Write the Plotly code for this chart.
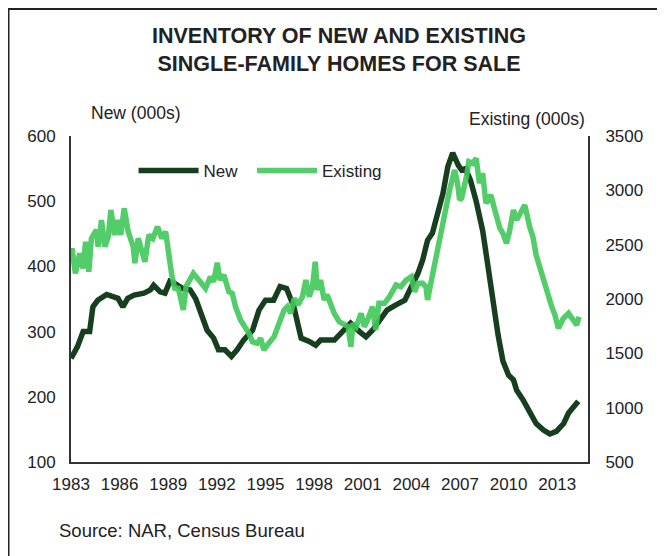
import plotly.graph_objects as go

# New single-family homes for sale (000s)
new_year = [1983.0, 1983.4, 1983.75, 1984.15, 1984.35, 1984.65, 1985.2, 1985.6, 1985.9, 1986.2,
            1986.5, 1986.9, 1987.5, 1987.9, 1988.1, 1988.5, 1988.8, 1989.1, 1989.4, 1989.9,
            1990.35, 1990.7, 1991.0, 1991.4, 1991.8, 1992.1, 1992.5, 1992.9, 1993.25, 1993.65,
            1994.2, 1994.6, 1995.0, 1995.5, 1995.9, 1996.3, 1996.75, 1997.2, 1997.7, 1998.1,
            1998.4, 1998.8, 1999.25, 1999.75, 2000.25, 2000.8, 2001.2, 2001.6, 2002.1, 2002.5,
            2003.05, 2003.6, 2004.0, 2004.4, 2004.7, 2005.0, 2005.3, 2005.6, 2005.95, 2006.25,
            2006.55, 2006.9, 2007.1, 2007.35, 2007.65, 2008.0, 2008.4, 2008.7, 2009.05, 2009.35,
            2009.65, 2010.0, 2010.3, 2010.5, 2010.9, 2011.3, 2011.7, 2012.15, 2012.55, 2012.95,
            2013.4, 2013.7, 2014.0, 2014.3]
new_homes = [259, 277, 300, 300, 338, 348, 357, 354, 351, 338,
             351, 356, 359, 364, 371, 361, 359, 377, 374, 366,
             364, 350, 328, 302, 290, 272, 272, 262, 272, 287,
             302, 333, 348, 348, 369, 366, 338, 290, 285, 279,
             287, 287, 287, 300, 313, 300, 292, 302, 318, 333,
             341, 348, 369, 389, 410, 440, 451, 481, 512, 553,
             574, 555, 548, 550, 532, 500, 455, 405, 343, 295,
             255, 233, 226, 210, 195, 175, 159, 149, 143, 147,
             159, 175, 185, 193]

# Existing single-family homes for sale (000s)
existing_year = [1983.0, 1983.06, 1983.27, 1983.54, 1983.74, 1983.9, 1984.1, 1984.26, 1984.57, 1984.67,
                 1984.88, 1985.09, 1985.3, 1985.46, 1985.7, 1985.9, 1986.07, 1986.28, 1986.53, 1986.84,
                 1986.94, 1987.15, 1987.35, 1987.56, 1987.8, 1988.05, 1988.34, 1988.6, 1988.84, 1989.0,
                 1989.2, 1989.42, 1989.6, 1989.93, 1990.1, 1990.55, 1990.75, 1991.0, 1991.3, 1991.6,
                 1991.8, 1992.02, 1992.2, 1992.43, 1992.74, 1992.95, 1993.15, 1993.46, 1993.77, 1993.98,
                 1994.19, 1994.5, 1994.7, 1994.9, 1995.2, 1995.53, 1995.84, 1996.15, 1996.35, 1996.56,
                 1996.77, 1997.0, 1997.28, 1997.49, 1997.7, 1997.9, 1998.07, 1998.2, 1998.4, 1998.62,
                 1998.8, 1999.0, 1999.24, 1999.55, 1999.86, 2000.1, 2000.27, 2000.4, 2000.6, 2000.9,
                 2001.1, 2001.3, 2001.6, 2001.8, 2002.0, 2002.35, 2002.65, 2003.06, 2003.35, 2003.68,
                 2004.0, 2004.2, 2004.4, 2004.7, 2004.9, 2005.0, 2005.2, 2005.4, 2005.74, 2006.05,
                 2006.36, 2006.67, 2006.85, 2006.98, 2007.1, 2007.4, 2007.55, 2007.8, 2008.0, 2008.2,
                 2008.4, 2008.6, 2008.9, 2009.15, 2009.46, 2009.65, 2009.87, 2010.05, 2010.3, 2010.5,
                 2010.8, 2011.0, 2011.3, 2011.5, 2011.7, 2012.04, 2012.35, 2012.66, 2012.86, 2013.07,
                 2013.38, 2013.7, 2013.95, 2014.2, 2014.35]
existing_homes = [2420, 2466, 2236, 2420, 2282, 2527, 2251, 2558, 2635, 2481,
                  2727, 2481, 2573, 2819, 2589, 2727, 2589, 2835, 2619, 2481,
                  2329, 2558, 2451, 2343, 2589, 2558, 2665, 2558, 2619, 2435,
                  2236, 2083, 2113, 1899, 2113, 2236, 2200, 2144, 2098, 2205,
                  2159, 2334, 2175, 2221, 2067, 2052, 1929, 1807, 1745, 1684,
                  1607, 1592, 1638, 1531, 1592, 1653, 1776, 1899, 1929, 1868,
                  2006, 1945, 2021, 2175, 2021, 2113, 2343, 2083, 2175, 1991,
                  2040, 1960, 1868, 1791, 1761, 1745, 1561, 1776, 1745, 1868,
                  1745, 1807, 1929, 1715, 1960, 1960, 2021, 2129, 2113, 2175,
                  2205, 2067, 2144, 2144, 2113, 1991, 2144, 2297, 2512, 2757,
                  3003, 3187, 3065, 2911, 2927, 3126, 3264, 3249, 3295, 3065,
                  3157, 2881, 2957, 2819, 2651, 2604, 2512, 2619, 2819, 2727,
                  2819, 2865, 2665, 2573, 2405, 2251, 2083, 1929, 1853, 1730,
                  1822, 1868, 1822, 1761, 1837]

year_ticks = list(range(1983, 2014, 3))

DARK = "#183e20"
LIGHT = "#41c85a"
TEXT = "#222222"
FONT = "Arial, Liberation Sans, sans-serif"

fig = go.Figure()
# trailing no-break spaces widen the first legend entry to match the original spacing
fig.add_trace(go.Scatter(x=new_year, y=new_homes, name="New\u00a0\u00a0", mode="lines",
                         line=dict(color=DARK, width=5.5)))
fig.add_trace(go.Scatter(x=existing_year, y=existing_homes, name="Existing", mode="lines",
                         line=dict(color=LIGHT, width=5.5), opacity=0.9, yaxis="y2"))

# the page body adds an 8px margin, so the figure is 8px smaller than the window
fig.update_layout(
    width=657, height=548,
    margin=dict(l=63, r=77, t=128, b=94),
    paper_bgcolor="white", plot_bgcolor="white",
    font=dict(family=FONT, size=17, color=TEXT),
    showlegend=True,
    legend=dict(orientation="h", x=0.121, y=0.893, xanchor="left", yanchor="middle",
                font=dict(size=17), itemwidth=60, bgcolor="rgba(0,0,0,0)"),
    xaxis=dict(range=[1983, 2014.9], tickvals=year_ticks, showgrid=False, zeroline=False,
               showline=True, linecolor="#333333", linewidth=2, ticks="", ticklabelstandoff=6),
    yaxis=dict(range=[100, 600], dtick=100, showgrid=False, zeroline=False,
               showline=True, linecolor="#333333", linewidth=2, ticks="", ticklabelstandoff=10),
    yaxis2=dict(range=[500, 3500], dtick=500, overlaying="y", side="right", showgrid=False,
                zeroline=False, showline=True, linecolor="#333333", linewidth=2, ticks="",
                ticklabelstandoff=12),
)

fig.add_annotation(text="<b>INVENTORY OF NEW AND EXISTING<br>SINGLE-FAMILY HOMES FOR SALE</b>",
                   xref="paper", yref="paper", x=0.518, y=1.265, xanchor="center", yanchor="middle",
                   showarrow=False, font=dict(size=21.5, color=TEXT))
fig.add_annotation(text="New (000s)", xref="paper", yref="paper", x=0.124, y=1.0706,
                   xanchor="center", yanchor="middle", showarrow=False, font=dict(size=17.5))
fig.add_annotation(text="Existing (000s)", xref="paper", yref="paper", x=0.882, y=1.052,
                   xanchor="center", yanchor="middle", showarrow=False, font=dict(size=17.5))
fig.add_annotation(text="Source: NAR, Census Bureau", xref="paper", yref="paper", x=-0.027,
                   y=-0.2086, xanchor="left", yanchor="middle", showarrow=False,
                   font=dict(size=18.5))

# outer frame: only the top and left edges show in the original
fig.add_shape(type="line", xref="paper", yref="paper", x0=-0.2, x1=1.3, y0=1.3896, y1=1.3896,
              line=dict(color="#222222", width=2))
fig.add_shape(type="line", xref="paper", yref="paper", x0=-0.1209, x1=-0.1209, y0=-0.4, y1=1.3896,
              line=dict(color="#222222", width=2))

fig.write_html("out.html")
